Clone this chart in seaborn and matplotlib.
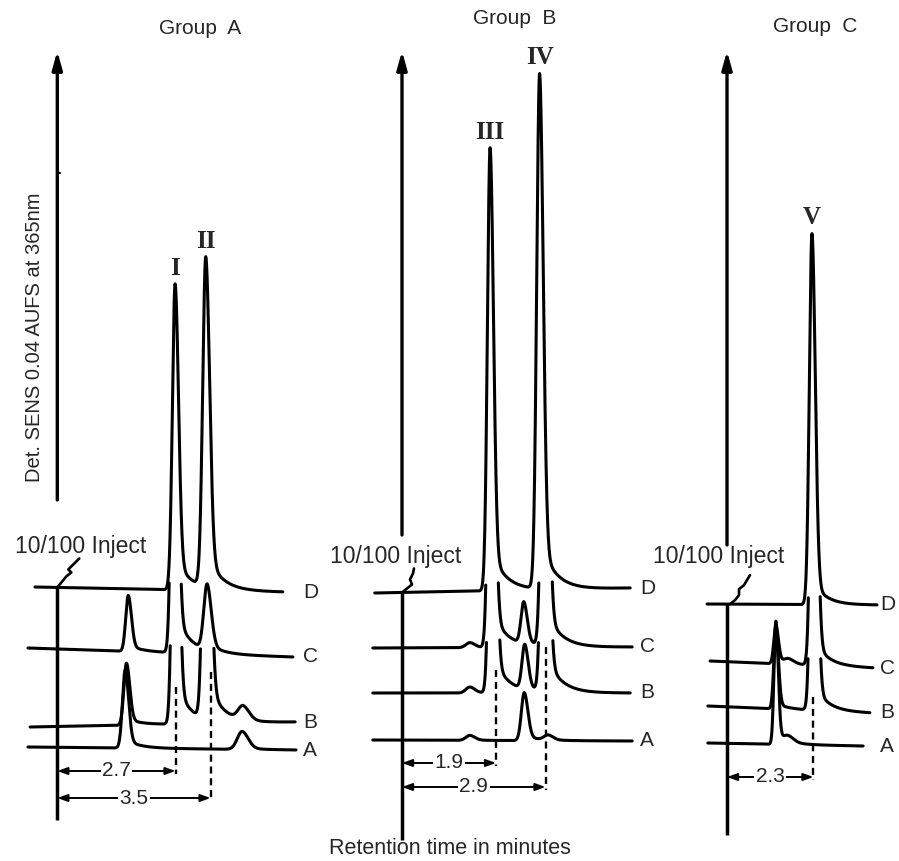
import numpy as np
import pandas as pd
import matplotlib
matplotlib.use("Agg")
import matplotlib.pyplot as plt
import seaborn as sns

sns.set_theme(style="white")
plt.rcParams["font.family"] = ["Liberation Sans", "DejaVu Sans"]

# ------------------------------------------------------------------ data
trace_names = ["D", "C", "B", "A"]          # top to bottom in each group

# peaks: trace, retention time (min), height (response), width sigma (min),
#        hidden = peak runs off under the trace drawn above it
grpA_trace  = ["D", "D", "C", "C", "C", "B", "B", "B", "B", "A", "A"]
grpA_time   = [2.69, 3.39, 1.62, 2.67, 3.42, 1.58, 2.69, 3.40, 4.24, 1.55, 4.22]
grpA_height = [306, 330, 56, 400, 66, 62, 400, 400, 14, 78, 18]
grpA_sigma  = [0.062, 0.07, 0.058, 0.062, 0.075, 0.06, 0.062, 0.07, 0.11, 0.062, 0.11]
grpA_hidden = [False, False, False, True, False, False, True, True, False, False, False]
grpA_marks  = [2.7, 3.5]
grpA_mark_labels = ["2.7", "3.5"]
grpA_peak_labels = ["I", "II"]

grpB_trace  = ["D", "D", "C", "C", "C", "C", "B", "B", "B", "B", "A", "A", "A"]
grpB_time   = [1.78, 2.78, 1.37, 1.80, 2.46, 2.88, 1.37, 1.82, 2.48, 2.88, 1.37, 2.47, 2.95]
grpB_height = [443, 515, 5, 400, 42, 400, 6, 400, 45, 400, 5, 48, 5]
grpB_sigma  = [0.054, 0.058, 0.08, 0.056, 0.055, 0.06, 0.08, 0.056, 0.055, 0.06, 0.08, 0.058, 0.08]
grpB_hidden = [False, False, False, True, False, True, False, True, False, True, False, False, False]
grpB_marks  = [1.9, 2.9]
grpB_mark_labels = ["1.9", "2.9"]
grpB_peak_labels = ["III", "IV"]

grpC_trace  = ["D", "C", "C", "C", "B", "B", "A", "A"]
grpC_time   = [2.26, 1.30, 1.62, 2.30, 1.30, 2.30, 1.30, 1.62]
grpC_height = [371, 38, 5, 400, 80, 400, 123, 6]
grpC_sigma  = [0.07, 0.055, 0.12, 0.072, 0.055, 0.072, 0.05, 0.12]
grpC_hidden = [False, False, False, True, False, True, False, False]
grpC_marks  = [2.3]
grpC_mark_labels = ["2.3"]
grpC_peak_labels = ["V"]

# ------------------------------------------------------------------ layout
W, H = 899, 861
panels = [
    dict(title="Group  A", title_xy=(200, 28), px=(0, 340), inject_px=57.3, ppm=43.8,
         trace=grpA_trace, time=grpA_time, height=grpA_height, sigma=grpA_sigma,
         hidden=grpA_hidden, marks=grpA_marks, mark_labels=grpA_mark_labels,
         peak_labels=grpA_peak_labels,
         start=[-0.51, -0.67, -0.62, -0.67], end=[5.15, 5.38, 5.43, 5.45],
         base_left=[274, 213, 134, 114], base_right=[269, 204, 139, 111],
         tail_frac=0.11, tau=0.32, label_t=5.61, arrow_u=(361, 810), arrow_ticks=[688],
         inject_bottom=41, inject_text=(0.54, 314),
         zig=[(0, 0), (9, 11), (14, 15), (11, 18), (18, 25), (22, 29)],
         dash_top=[174, 189], dim_u=[90, 63]),
    dict(title="Group  B", title_xy=(515, 18), px=(340, 660), inject_px=402, ppm=49.5,
         trace=grpB_trace, time=grpB_time, height=grpB_height, sigma=grpB_sigma,
         hidden=grpB_hidden, marks=grpB_marks, mark_labels=grpB_mark_labels,
         peak_labels=grpB_peak_labels,
         start=[-0.55, -0.59, -0.59, -0.59], end=[4.61, 4.65, 4.61, 4.65],
         base_left=[268, 213, 168, 121], base_right=[273, 214, 168, 120],
         tail_frac=0.10, tau=0.28, label_t=4.81, arrow_u=(326, 810), arrow_ticks=[],
         inject_bottom=21, inject_text=(-0.12, 305),
         zig=[(0, 0), (5, 4), (10, 8), (8, 13), (11, 19), (12, 24)],
         dash_top=[191, 214], dim_u=[98, 74]),
    dict(title="Group  C", title_xy=(815, 27), px=(660, 899), inject_px=727, ppm=37.6,
         trace=grpC_trace, time=grpC_time, height=grpC_height, sigma=grpC_sigma,
         hidden=grpC_hidden, marks=grpC_marks, mark_labels=grpC_mark_labels,
         peak_labels=grpC_peak_labels,
         start=[-0.53, -0.45, -0.51, -0.51], end=[3.99, 3.88, 3.80, 3.62],
         base_left=[257, 200, 155, 118], base_right=[256, 193, 148, 115],
         tail_frac=0.07, tau=0.33, label_t=4.07, arrow_u=(316, 810), arrow_ticks=[],
         inject_bottom=26, inject_text=(-0.21, 304),
         zig=[(3, 0), (8, 4), (12, 9), (12, 15), (17, 19), (23, 29)],
         dash_top=[164], dim_u=[84]),
]

TRACE_LW = 2.2
MARGIN = 8.0


def peak_shape(t, t0, h, sig, tail_frac, tau, rfac=1.25):
    d = t - t0
    left = np.exp(-0.5 * (d / sig) ** 2)
    right = (1 - tail_frac) * np.exp(-0.5 * (d / (rfac * sig)) ** 2) \
        + tail_frac * np.exp(-np.clip(d, 0, None) / tau)
    return h * np.where(d < 0, left, right)


def trace_curve(p, k, t):
    name = trace_names[k]
    base = np.interp(t, [p["start"][k], p["end"][k]], [p["base_left"][k], p["base_right"][k]])
    vis = np.zeros_like(t)
    hid = np.zeros_like(t)
    for tr, t0, h, s, hd in zip(p["trace"], p["time"], p["height"], p["sigma"], p["hidden"]):
        if tr != name:
            continue
        sh = peak_shape(t, t0, h, s, p["tail_frac"], p["tau"])
        if hd:
            hid += sh
        else:
            vis += sh
    return base, base + vis + hid, hid


rows = []
for gi, p in enumerate(panels):
    seg_id = 0
    for k, name in enumerate(trace_names):
        t = np.arange(p["start"][k], p["end"][k] + 1e-9, 0.002)
        base, y, hid = trace_curve(p, k, t)
        visible = np.ones_like(t, dtype=bool)
        if k > 0:
            ub, uy, _ = trace_curve(p, k - 1, t)
            ceiling = np.minimum(uy, ub + MARGIN)
            visible = ~((y > ceiling) & (hid > 2.0))
        change = np.concatenate([[0], np.diff(visible.astype(int)) != 0]).cumsum()
        for c in np.unique(change[visible]):
            sel = visible & (change == c)
            seg_id += 1
            rows.append(pd.DataFrame({"group": gi, "trace": name,
                                      "seg": f"{name}{seg_id}",
                                      "t": t[sel], "u": y[sel]}))
df = pd.concat(rows, ignore_index=True)

# ------------------------------------------------------------------ figure
fig = plt.figure(figsize=(W / 100, H / 100), dpi=100)
fig.patch.set_facecolor("white")

for gi, p in enumerate(panels):
    x0, x1 = p["px"]
    ax = fig.add_axes([x0 / W, 0, (x1 - x0) / W, 1])
    ax.set_xlim((x0 - p["inject_px"]) / p["ppm"], (x1 - p["inject_px"]) / p["ppm"])
    ax.set_ylim(0, H)
    ax.axis("off")

    sub = df[df["group"] == gi]
    sns.lineplot(data=sub, x="t", y="u", units="seg", estimator=None, sort=False,
                 color="black", linewidth=TRACE_LW, ax=ax, legend=False)

    # detector axis arrow
    ax.annotate("", xy=(0, p["arrow_u"][1]), xytext=(0, p["arrow_u"][0]),
                arrowprops=dict(arrowstyle="-|>,head_length=0.9,head_width=0.25",
                                lw=2.4, color="black", shrinkA=0, shrinkB=0))
    for tk in p["arrow_ticks"]:
        ax.plot([0, 3 / p["ppm"]], [tk, tk], color="black", lw=1.6)

    # injection line
    d_base0 = np.interp(0.0, [p["start"][0], p["end"][0]], [p["base_left"][0], p["base_right"][0]])
    ax.plot([0, 0], [d_base0, p["inject_bottom"]], color="black", lw=2.5, solid_capstyle="butt")

    # zigzag leader to the injection text
    zx = [dx / p["ppm"] for dx, dy in p["zig"]]
    zy = [d_base0 + dy for dx, dy in p["zig"]]
    ax.plot(zx, zy, color="black", lw=1.9)
    ax.text(p["inject_text"][0], p["inject_text"][1], "10/100 Inject",
            ha="center", va="center", fontsize=16.5)

    # trace labels
    for k, name in enumerate(trace_names):
        ax.text(p["label_t"], p["base_right"][k], name, ha="left", va="center", fontsize=15)

    # peak labels on trace D
    tt = np.arange(p["start"][0], p["end"][0], 0.002)
    _, yd, _ = trace_curve(p, 0, tt)
    d_peaks = [(t0, h) for tr, t0, h in zip(p["trace"], p["time"], p["height"]) if tr == "D"]
    for (t0, h), lab in zip(d_peaks, p["peak_labels"]):
        win = np.abs(tt - t0) < 0.2
        i = np.argmax(np.where(win, yd, -1))
        ax.annotate(lab, xy=(tt[i], yd[i]), xytext=(0, 3), textcoords="offset points",
                    ha="center", va="bottom", fontsize=18, fontweight="bold",
                    family="Liberation Serif")

    # retention-time marks
    for m, lab, top, du in zip(p["marks"], p["mark_labels"], p["dash_top"], p["dim_u"]):
        ax.plot([m, m], [top, du - 3], color="black", lw=1.7, linestyle=(0, (3, 2)))
        ax.annotate("", xy=(m, du), xytext=(0, du),
                    arrowprops=dict(arrowstyle="<|-|>,head_length=0.5,head_width=0.18",
                                    lw=1.4, color="black", shrinkA=0, shrinkB=0))
        ax.text(m / 2, du, lab, ha="center", va="center", fontsize=15,
                bbox=dict(facecolor="white", edgecolor="none", pad=1.0))

    fig.text(p["title_xy"][0] / W, 1 - p["title_xy"][1] / H, p["title"],
             ha="center", va="center", fontsize=15)

    if gi == 0:
        ax.text((35 - p["inject_px"]) / p["ppm"], H - 337, "Det. SENS 0.04 AUFS at 365nm",
                rotation=90, ha="center", va="center", fontsize=14.5)

fig.text(450 / W, 1 - 848 / H, "Retention time in minutes", ha="center", va="center",
         fontsize=15.5)

fig.savefig("out.png", dpi=100, facecolor="white")
